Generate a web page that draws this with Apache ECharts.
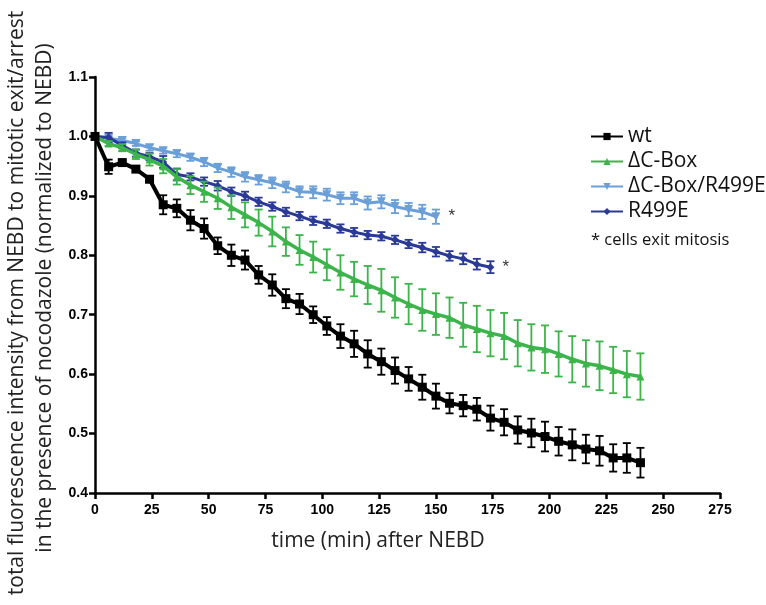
<!DOCTYPE html>
<html>
<head>
<meta charset="utf-8">
<script src="https://cdn.jsdelivr.net/npm/echarts@6/dist/echarts.min.js"></script>
<style>html,body{margin:0;padding:0;background:#fff;}#c{width:766px;height:605px;}</style>
</head>
<body>
<div id="c"></div>
<script>
// time points (min after NEBD)
const times = [0,6,12,18,24,30,36,42,48,54,60,66,72,78,84,90,96,102,108,114,120,126,132,138,144,150,156,162,168,174,180,186,192,198,204,210,216,222,228,234,240];

const wtMean = [1.000,0.949,0.956,0.945,0.928,0.885,0.879,0.859,0.845,0.816,0.800,0.792,0.767,0.750,0.727,0.718,0.700,0.681,0.664,0.651,0.634,0.621,0.606,0.592,0.578,0.563,0.551,0.547,0.541,0.526,0.519,0.506,0.501,0.495,0.487,0.481,0.474,0.471,0.459,0.459,0.451];
const wtErr  = [0,0.012,0.004,0.005,0.005,0.016,0.015,0.017,0.017,0.014,0.018,0.016,0.015,0.018,0.016,0.017,0.014,0.015,0.020,0.022,0.023,0.022,0.022,0.020,0.021,0.021,0.017,0.018,0.019,0.021,0.022,0.023,0.024,0.025,0.024,0.026,0.024,0.025,0.023,0.025,0.025];

const cboxMean = [1.000,0.988,0.981,0.970,0.961,0.950,0.932,0.918,0.907,0.896,0.881,0.868,0.855,0.840,0.823,0.809,0.797,0.784,0.771,0.760,0.750,0.741,0.729,0.718,0.708,0.701,0.695,0.683,0.676,0.669,0.664,0.652,0.645,0.642,0.634,0.625,0.618,0.614,0.607,0.600,0.596];
const cboxErr  = [0,0.004,0.006,0.008,0.010,0.012,0.013,0.015,0.017,0.018,0.020,0.021,0.022,0.025,0.024,0.025,0.026,0.026,0.029,0.029,0.032,0.036,0.034,0.034,0.035,0.035,0.034,0.037,0.039,0.039,0.039,0.039,0.039,0.040,0.038,0.039,0.039,0.041,0.039,0.039,0.039];

const cboxR499EMean = [1.000,0.997,0.993,0.988,0.981,0.976,0.971,0.965,0.957,0.947,0.940,0.932,0.927,0.922,0.915,0.907,0.906,0.902,0.896,0.896,0.888,0.890,0.882,0.877,0.873,0.865];
const cboxR499EErr  = [0,0.003,0.004,0.004,0.005,0.005,0.006,0.006,0.007,0.007,0.008,0.008,0.008,0.009,0.009,0.009,0.010,0.010,0.010,0.010,0.011,0.011,0.011,0.011,0.012,0.012];

const r499eMean = [1.000,0.998,0.985,0.972,0.966,0.957,0.936,0.932,0.924,0.917,0.907,0.900,0.890,0.882,0.873,0.866,0.858,0.853,0.845,0.839,0.834,0.832,0.826,0.819,0.813,0.806,0.799,0.794,0.785,0.780];
const r499eErr  = [0,0.008,0.005,0.006,0.006,0.010,0.010,0.006,0.007,0.008,0.007,0.007,0.007,0.007,0.007,0.007,0.007,0.007,0.007,0.007,0.007,0.007,0.007,0.007,0.008,0.008,0.008,0.009,0.009,0.010];

const seriesNames = ['wt','\u0394C-Box','\u0394C-Box/R499E','R499E'];
const xTicks = {min:0, max:275, interval:25};
const yTicks = {min:0.4, max:1.1, interval:0.1};

const colors = ['#000000','#3cb44b','#6a9fd8','#2b3a96'];

function points(mean, star){
  return mean.map((v,i)=>{
    const item = {value:[times[i], v]};
    if (star && i === mean.length-1) {
      item.label = {show:true, formatter:'*', position:'right', distance:8, color:'#333', fontSize:17, fontFamily:'Liberation Sans'};
    }
    return item;
  });
}
function errData(mean, err){
  return mean.map((v,i)=>[times[i], v-err[i], v+err[i], err[i]]);
}
function errSeries(mean, err, color, lw, z){
  return {
    type:'custom', silent:true, z:z,
    data: errData(mean, err),
    renderItem: function(params, api){
      if (api.value(3) <= 0) return null;
      const x = api.value(0);
      const lo = api.coord([x, api.value(1)]);
      const hi = api.coord([x, api.value(2)]);
      const w = 4;
      const st = {stroke:color, lineWidth:lw};
      return {type:'group', children:[
        {type:'line', shape:{x1:lo[0],y1:lo[1],x2:hi[0],y2:hi[1]}, style:st},
        {type:'line', shape:{x1:lo[0]-w,y1:lo[1],x2:lo[0]+w,y2:lo[1]}, style:st},
        {type:'line', shape:{x1:hi[0]-w,y1:hi[1],x2:hi[0]+w,y2:hi[1]}, style:st}
      ]};
    }
  };
}

const chart = echarts.init(document.getElementById('c'), null, {renderer:'canvas'});
const tickFont = {color:'#000', fontWeight:'bold', fontSize:14, fontFamily:'Liberation Sans'};
chart.setOption({
  animation:false,
  backgroundColor:'#fff',
  grid:{left:95, right:46, top:77, bottom:112, containLabel:false},
  xAxis:{
    type:'value', min:xTicks.min, max:xTicks.max, interval:xTicks.interval,
    axisLine:{show:true, lineStyle:{color:'#000', width:2.5}},
    axisTick:{show:true, length:6, lineStyle:{color:'#000', width:2.5}},
    axisLabel:Object.assign({margin:10}, tickFont),
    splitLine:{show:false}
  },
  yAxis:{
    type:'value', min:yTicks.min, max:yTicks.max, interval:yTicks.interval,
    axisLine:{show:true, lineStyle:{color:'#000', width:2.5}},
    axisTick:{show:true, length:6, lineStyle:{color:'#000', width:2.5}},
    axisLabel:Object.assign({margin:7, formatter:v=>v.toFixed(1)}, tickFont),
    splitLine:{show:false}
  },
  legend:{
    data:seriesNames, orient:'vertical', left:585, top:121,
    itemWidth:32, itemHeight:9, itemGap:4,
    textStyle:{fontSize:21, color:'#111', fontFamily:'Open Sans', padding:[0,0,0,0]}
  },
  graphic:[
    {type:'text', left:591, top:232, style:{text:'* cells exit mitosis', fontSize:16.5, fill:'#111', fontFamily:'Open Sans'}},
    {type:'text', x:378, y:541, style:{text:'time (min) after NEBD', fontSize:21, fill:'#222', fontFamily:'Open Sans', textAlign:'center', textVerticalAlign:'middle'}},
    {type:'text', x:17, y:303, rotation:Math.PI/2, style:{text:'total fluorescence intensity from NEBD to mitotic exit/arrest', fontSize:21, fill:'#222', fontFamily:'Open Sans', textAlign:'center', textVerticalAlign:'middle'}},
    {type:'text', x:45, y:298, rotation:Math.PI/2, style:{text:'in the presence of nocodazole (normalized to NEBD)', fontSize:21, fill:'#222', fontFamily:'Open Sans', textAlign:'center', textVerticalAlign:'middle'}}
  ],
  series:[
    errSeries(cboxR499EMean, cboxR499EErr, colors[2], 1.8, 1),
    {type:'line', name:seriesNames[2], data:points(cboxR499EMean, true), color:colors[2],
     lineStyle:{width:3}, symbol:'triangle', symbolRotate:180, symbolSize:9, z:2},
    errSeries(r499eMean, r499eErr, colors[3], 1.8, 3),
    {type:'line', name:seriesNames[3], data:points(r499eMean, true), color:colors[3],
     lineStyle:{width:3}, symbol:'diamond', symbolSize:8, z:4},
    errSeries(cboxMean, cboxErr, colors[1], 1.8, 5),
    {type:'line', name:seriesNames[1], data:points(cboxMean, false), color:colors[1],
     lineStyle:{width:3.5}, symbol:'triangle', symbolSize:8, z:6},
    errSeries(wtMean, wtErr, colors[0], 1.8, 7),
    {type:'line', name:seriesNames[0], data:points(wtMean, false), color:colors[0],
     lineStyle:{width:4}, symbol:'rect', symbolSize:9, z:8}
  ]
});
</script>
</body>
</html>
